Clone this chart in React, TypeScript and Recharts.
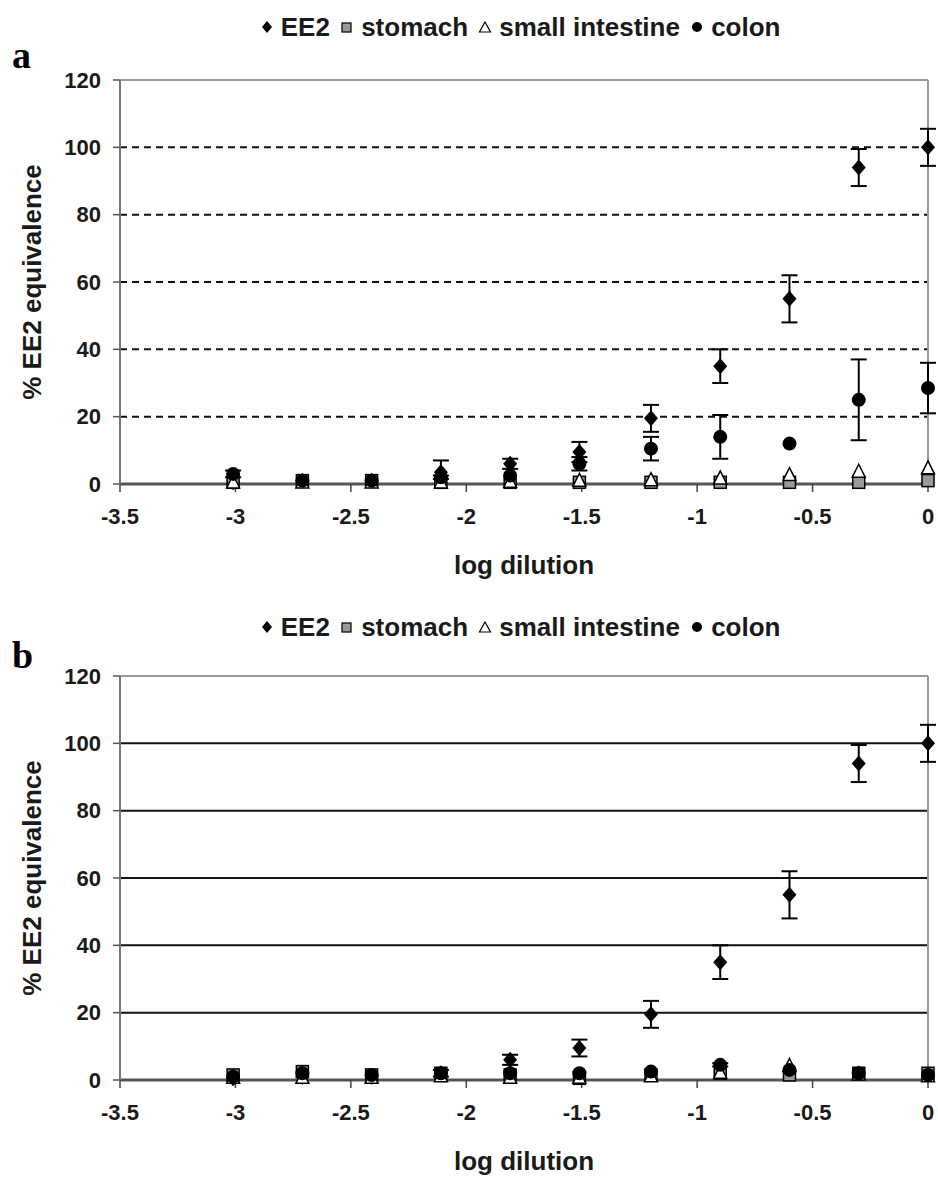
import React from 'react';
import { ScatterChart, Scatter, XAxis, YAxis, ErrorBar, ReferenceLine, Label } from 'recharts';

// log dilution steps (2-fold)
const dilution = [-3.01, -2.71, -2.41, -2.11, -1.81, -1.51, -1.2, -0.9, -0.6, -0.3, 0];
const xTicks = [-3.5, -3, -2.5, -2, -1.5, -1, -0.5, 0];
const yTicks = [0, 20, 40, 60, 80, 100, 120];
const gridValues = [20, 40, 60, 80, 100];

// panel a
const ee2A = [0.5, 1, 1, 3.5, 6, 9.5, 19.5, 35, 55, 94, 100];
const ee2AErr = [0, 0, 0, 3.5, 1.5, 3, 4, 5, 7, 5.5, 5.5];
const stomachA = [0.5, 1, 1, 0.5, 0.5, 0.5, 0.5, 0.5, 0.5, 0.5, 1];
const smallIntA = [0.3, 0.3, 0.3, 0.3, 0.5, 0.8, 1, 1.5, 2.5, 3.5, 4.5];
const colonA = [3, 1, 1, 2, 2.5, 6, 10.5, 14, 12, 25, 28.5];
const colonAErr = [1, 0, 0, 0.5, 0, 2, 3.5, 6.5, 0, 12, 7.5];

// panel b
const ee2B = [0.5, 1, 1, 2, 6, 9.5, 19.5, 35, 55, 94, 100];
const ee2BErr = [0, 0, 0, 1, 1.5, 2.5, 4, 5, 7, 5.5, 5.5];
const stomachB = [1.5, 2.5, 1.5, 2, 1.5, 0.5, 1.5, 2, 1.5, 2, 2];
const smallIntB = [0.5, 0.5, 0.5, 1, 0.5, 0.5, 1, 2, 4, 1.5, 1];
const colonB = [1, 2, 1.5, 2, 2, 2, 2.5, 4.5, 3, 2, 1.5];
const colonBErr = [0, 0, 0, 0, 0, 0, 0, 0.5, 0, 0, 0];

const FONT = '"Liberation Sans", Arial, sans-serif';
const TEXT = '#1a1a1a';

const toPoints = (ys: number[], errs?: number[]) =>
  ys.map((y, i) => ({ x: dilution[i], y, err: errs ? errs[i] : 0 }));

const Diamond = (p: any) => (
  <polygon
    points={`${p.cx},${p.cy - 8} ${p.cx + 7},${p.cy} ${p.cx},${p.cy + 8} ${p.cx - 7},${p.cy}`}
    fill={'#000'}
  />
);
const Square = (p: any) => (
  <rect x={p.cx - 6} y={p.cy - 6} width={12} height={12} fill={'#9a9a9a'} stroke={'#000'} strokeWidth={1.5} />
);
const Triangle = (p: any) => (
  <polygon
    points={`${p.cx},${p.cy - 8} ${p.cx + 6.5},${p.cy + 5} ${p.cx - 6.5},${p.cy + 5}`}
    fill={'#fff'}
    stroke={'#000'}
    strokeWidth={1.5}
  />
);
const Dot = (p: any) => <circle cx={p.cx} cy={p.cy} r={7} fill={'#000'} />;

const YLabel = ({ viewBox }: any) => {
  const cx = viewBox.x + 32;
  const cy = viewBox.y + viewBox.height / 2;
  return (
    <text
      x={cx}
      y={cy}
      transform={`rotate(-90 ${cx} ${cy})`}
      textAnchor={'middle'}
      dominantBaseline={'central'}
      fontFamily={FONT}
      fontWeight={'bold'}
      fontSize={26}
      fill={TEXT}
    >
      % EE2 equivalence
    </text>
  );
};

const XLabel = ({ viewBox }: any) => (
  <text
    x={viewBox.x + viewBox.width / 2}
    y={viewBox.y + 81}
    textAnchor={'middle'}
    dominantBaseline={'central'}
    fontFamily={FONT}
    fontWeight={'bold'}
    fontSize={26}
    fill={TEXT}
  >
    log dilution
  </text>
);

function LegendRow({ top }: { top: number }) {
  const item = { display: 'inline-flex', alignItems: 'center', marginRight: 10 } as const;
  return (
    <div
      style={{
        position: 'absolute',
        top: top - 15,
        left: 0,
        width: 1050,
        height: 30,
        display: 'flex',
        justifyContent: 'center',
        alignItems: 'center',
        fontFamily: FONT,
        fontWeight: 'bold',
        fontSize: 26,
        color: TEXT,
        whiteSpace: 'nowrap',
      }}
    >
      <span style={item}>
        <svg width={14} height={14}><polygon points={'7,1 12,7 7,13 2,7'} fill={'#000'} /></svg>
        &nbsp;EE2
      </span>
      <span style={item}>
        <svg width={14} height={14}><rect x={2} y={3} width={9} height={9} fill={'#9a9a9a'} stroke={'#000'} strokeWidth={1.2} /></svg>
        &nbsp;stomach
      </span>
      <span style={item}>
        <svg width={14} height={14}><polygon points={'7,2 12.5,12 1.5,12'} fill={'#fff'} stroke={'#000'} strokeWidth={1.2} /></svg>
        &nbsp;small intestine
      </span>
      <span style={item}>
        <svg width={14} height={14}><circle cx={7} cy={7} r={5} fill={'#000'} /></svg>
        &nbsp;colon
      </span>
    </div>
  );
}

interface PanelProps {
  letter: string;
  legendTop: number;
  plotTop: number;
  dashed: boolean;
  ee2: number[];
  ee2Err: number[];
  stomach: number[];
  smallInt: number[];
  colon: number[];
  colonErr: number[];
}

function Panel(props: PanelProps) {
  const { letter, legendTop, plotTop, dashed } = props;
  const errProps = { dataKey: 'err', direction: 'y' as const, width: 8, stroke: '#000', strokeWidth: 2, isAnimationActive: false };
  return (
    <div style={{ position: 'relative', width: 938, height: 592 }}>
      <div
        style={{
          position: 'absolute',
          left: 12,
          top: legendTop + 6,
          fontFamily: '"Liberation Serif", "Times New Roman", serif',
          fontWeight: 'bold',
          fontSize: 38,
          color: '#000',
        }}
      >
        {letter}
      </div>
      <LegendRow top={legendTop} />
      <ScatterChart
        width={938}
        height={592}
        margin={{ top: plotTop, right: 10, left: 0, bottom: 592 - plotTop - 404 - 100 }}
      >
        <XAxis
          dataKey={'x'}
          type={'number'}
          domain={[-3.5, 0]}
          ticks={xTicks}
          height={100}
          tickSize={8}
          tickMargin={16}
          axisLine={{ stroke: '#555', strokeWidth: 3 }}
          tickLine={{ stroke: '#444', strokeWidth: 1.5 }}
          tick={{ fontFamily: FONT, fontWeight: 'bold', fontSize: 22, fill: TEXT }}
        >
          <Label content={<XLabel />} />
        </XAxis>
        <YAxis
          dataKey={'y'}
          type={'number'}
          domain={[0, 120]}
          ticks={yTicks}
          width={120}
          tickSize={7}
          tickMargin={12}
          axisLine={{ stroke: '#777', strokeWidth: 2 }}
          tickLine={{ stroke: '#555', strokeWidth: 1.5 }}
          tick={{ fontFamily: FONT, fontWeight: 'bold', fontSize: 22, fill: TEXT }}
        >
          <Label content={<YLabel />} />
        </YAxis>
        {gridValues.map(v => (
          <ReferenceLine
            key={v}
            y={v}
            stroke={'#111'}
            strokeWidth={2}
            strokeDasharray={dashed ? '7 5' : undefined}
          />
        ))}
        <ReferenceLine y={120} stroke={'#999'} strokeWidth={2} />
        <ReferenceLine x={0} stroke={'#999'} strokeWidth={2} />
        <Scatter data={toPoints(props.ee2, props.ee2Err)} shape={<Diamond />} isAnimationActive={false}>
          <ErrorBar {...errProps} />
        </Scatter>
        <Scatter data={toPoints(props.stomach)} shape={<Square />} isAnimationActive={false} />
        <Scatter data={toPoints(props.smallInt)} shape={<Triangle />} isAnimationActive={false} />
        <Scatter data={toPoints(props.colon, props.colonErr)} shape={<Dot />} isAnimationActive={false}>
          <ErrorBar {...errProps} />
        </Scatter>
      </ScatterChart>
    </div>
  );
}

export default function App() {
  return (
    <div style={{ position: 'absolute', left: 0, top: 0, width: 938, height: 1184, background: '#fff', overflow: 'hidden' }}>
      <Panel
        letter={'a'}
        legendTop={27}
        plotTop={80}
        dashed={true}
        ee2={ee2A}
        ee2Err={ee2AErr}
        stomach={stomachA}
        smallInt={smallIntA}
        colon={colonA}
        colonErr={colonAErr}
      />
      <Panel
        letter={'b'}
        legendTop={35}
        plotTop={84}
        dashed={false}
        ee2={ee2B}
        ee2Err={ee2BErr}
        stomach={stomachB}
        smallInt={smallIntB}
        colon={colonB}
        colonErr={colonBErr}
      />
    </div>
  );
}
